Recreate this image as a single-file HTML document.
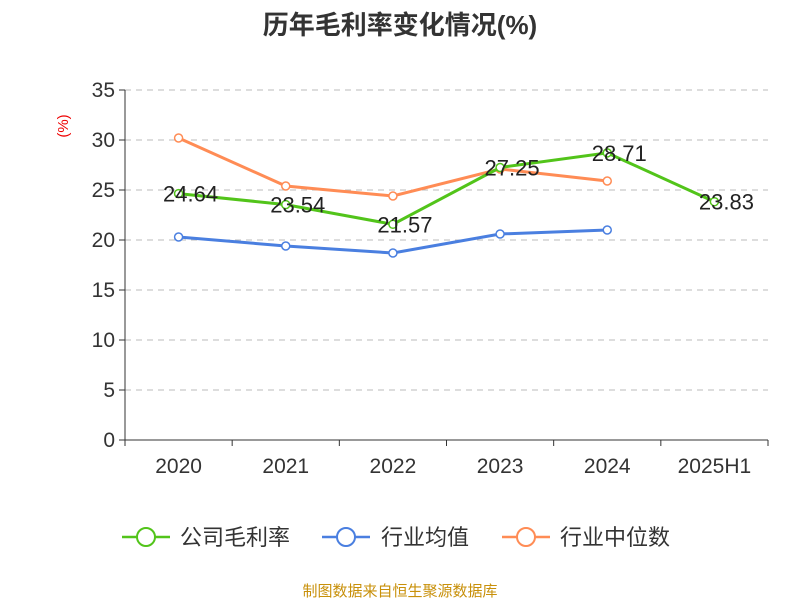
<!DOCTYPE html>
<html><head><meta charset="utf-8"><style>
body{margin:0;background:#fff;font-family:"Liberation Sans","Noto Sans CJK SC",sans-serif}
svg text{font-family:"Liberation Sans","Noto Sans CJK SC",sans-serif}
</style></head><body>
<svg id="c" width="800" height="600" xmlns="http://www.w3.org/2000/svg">
<text x="400" y="34" text-anchor="middle" font-size="26" font-weight="bold" fill="#333">历年毛利率变化情况(%)</text>
<text x="68" y="126" text-anchor="middle" font-size="15" fill="#e00" transform="rotate(-90 68 126)">(%)</text>
<g id="grid"></g><g id="axes"></g><g id="series"></g>
<g font-size="22" fill="#333">
<g><line x1="122" y1="537" x2="170" y2="537" stroke="#52c41a" stroke-width="2.5"/><circle cx="146" cy="537" r="9" fill="#fff" stroke="#52c41a" stroke-width="2"/><text x="180" y="545">公司毛利率</text></g>
<g><line x1="322" y1="537" x2="370" y2="537" stroke="#4a7fe0" stroke-width="2.5"/><circle cx="346" cy="537" r="9" fill="#fff" stroke="#4a7fe0" stroke-width="2"/><text x="381" y="545">行业均值</text></g>
<g><line x1="502" y1="537" x2="550" y2="537" stroke="#ff8c55" stroke-width="2.5"/><circle cx="526" cy="537" r="9" fill="#fff" stroke="#ff8c55" stroke-width="2"/><text x="560" y="545">行业中位数</text></g>
</g>
<text x="400" y="596" text-anchor="middle" font-size="15" fill="#c8900a">制图数据来自恒生聚源数据库</text>
</svg>
<script>
const categories=["2020","2021","2022","2023","2024","2025H1"];
const grossMargin=[24.64,23.54,21.57,27.25,28.71,23.83];
const industryAvg=[20.3,19.4,18.7,20.6,21.0];
const industryMedian=[30.2,25.4,24.4,27.1,25.9];
const yTicks=[0,5,10,15,20,25,30,35];
const NS="http://www.w3.org/2000/svg";
const x0=125,x1=768,yb=440,yt=90,ymax=35;
const bw=(x1-x0)/categories.length;
const X=i=>x0+bw*(i+0.5);
const Y=v=>yb-(v/ymax)*(yb-yt);
function mk(t,a,p){const e=document.createElementNS(NS,t);for(const k in a)e.setAttribute(k,a[k]);p.appendChild(e);return e;}
const grid=document.getElementById('grid'),axes=document.getElementById('axes'),ser=document.getElementById('series');
yTicks.forEach(v=>{
 if(v>0){const l=mk('line',{x1:x0,x2:x1,y1:Y(v),y2:Y(v),stroke:'#bbb','stroke-dasharray':'6,5'},grid);
 
 }
 mk('line',{x1:x0-6,x2:x0,y1:Y(v),y2:Y(v),stroke:'#333'},axes);
 const t=mk('text',{x:x0-10,y:Y(v)+7,'text-anchor':'end','font-size':21,fill:'#333'},axes);t.textContent=v;
 
 
});
mk('line',{x1:x0,x2:x0,y1:yt,y2:yb,stroke:'#333'},axes);
mk('line',{x1:x0,x2:x1,y1:yb,y2:yb,stroke:'#333'},axes);
for(let i=0;i<=categories.length;i++)mk('line',{x1:x0+bw*i,x2:x0+bw*i,y1:yb,y2:yb+6,stroke:'#333'},axes);
categories.forEach((c,i)=>{const t=mk('text',{x:X(i),y:473,'text-anchor':'middle','font-size':21,fill:'#333'},axes);t.textContent=c;
 
 });
function series(data,color,name,labels){
 const g=mk('g',{},ser);
 
 
 mk('polyline',{points:data.map((v,i)=>X(i)+','+Y(v)).join(' '),fill:'none',stroke:color,'stroke-width':3},g);
 data.forEach((v,i)=>{const c=mk('circle',{cx:X(i),cy:Y(v),r:4,fill:'#fff',stroke:color,'stroke-width':1.5},g);
  
  
  if(labels){const t=mk('text',{x:X(i)+12,y:Y(v)+8,'text-anchor':'middle','font-size':22,fill:'#222'},g);t.textContent=v.toFixed(2);
   
   }});
}
series(industryAvg,'#4a7fe0','industry-average-line',false);
series(industryMedian,'#ff8c55','industry-median-line',false);
series(grossMargin,'#52c41a','gross-margin-line',true);
</script>
</body></html>
